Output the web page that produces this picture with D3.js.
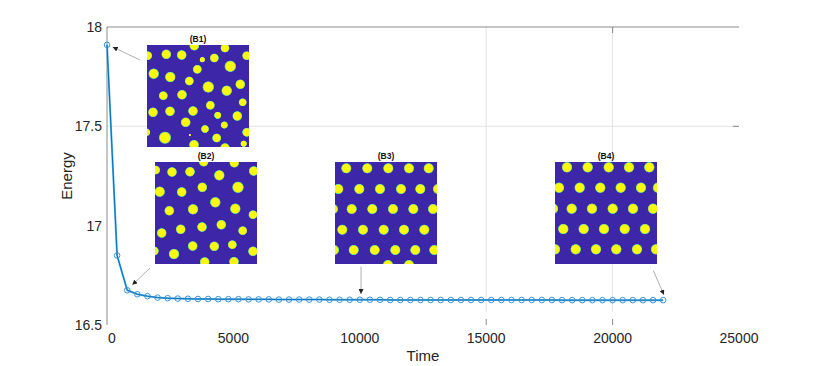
<!DOCTYPE html>
<html>
<head>
<meta charset="utf-8">
<script src="https://cdn.jsdelivr.net/npm/d3@7"></script>
<style>
  body { margin: 0; background: #fff; }
  svg { display: block; font-family: "Liberation Sans", Arial, Helvetica, sans-serif; }
</style>
</head>
<body>
<div id="chart"></div>
<script>
// data
var times = [0, 400, 800, 1200, 1600, 2000, 2400, 2800, 3200, 3600,
  4000, 4400, 4800, 5200, 5600, 6000, 6400, 6800, 7200, 7600,
  8000, 8400, 8800, 9200, 9600, 10000, 10400, 10800, 11200, 11600,
  12000, 12400, 12800, 13200, 13600, 14000, 14400, 14800, 15200, 15600,
  16000, 16400, 16800, 17200, 17600, 18000, 18400, 18800, 19200, 19600,
  20000, 20400, 20800, 21200, 21600, 22000];
var energy = [17.91, 16.85, 16.675, 16.655, 16.645, 16.638, 16.635, 16.633, 16.632, 16.631,
  16.631, 16.630, 16.630, 16.630, 16.629, 16.629, 16.629, 16.628, 16.628, 16.628,
  16.628, 16.628, 16.627, 16.627, 16.627, 16.627, 16.627, 16.627, 16.626, 16.626,
  16.626, 16.626, 16.626, 16.626, 16.626, 16.626, 16.626, 16.626, 16.626, 16.626,
  16.626, 16.626, 16.626, 16.626, 16.626, 16.625, 16.625, 16.625, 16.625, 16.625,
  16.625, 16.625, 16.625, 16.625, 16.625, 16.625];
var xTicks = [0, 5000, 10000, 15000, 20000, 25000];
var yTicks = [16.5, 17, 17.5, 18];

// inset snapshots: dot [x, y, r] inside a 102px square
var dotsB1 = [[47.3,0.7,4],[78,3,3.7],[0.7,10.7,3.7],[19.3,9.3,4],[34.7,10,4],[55.3,14.7,2.3],
  [67.3,13,3.7],[99.7,10.7,3.7],[83.3,21.3,4.7],[50.3,24.3,3.7],[6.7,28.7,4.3],[23.3,32,4.3],
  [42.3,36,3.7],[61.3,42,4.7],[93.3,39.3,4],[79.7,45.7,4.3],[16.3,50.7,3.7],[35,49.7,4],
  [95.7,57.3,3.3],[63.3,60.3,3.7],[6,67.3,4],[23,66.3,4],[46,66,4],[70.7,70.3,3],
  [90.3,71,4],[38.7,77.3,4],[77.3,80,3],[58,84,3.3],[99.7,87.3,3.7],[-0.7,87.3,3.3],
  [42.7,90,1],[18,92.7,5],[69.7,93,3.7],[47,99.7,4],[96.7,98.7,2.7],[78,103,4]];
var dotsB2 = [[48.7,-0.3,4],[79.3,0.7,4],[0.7,8,3.7],[17,10,4],[35,9.7,4],[64.3,13.3,4.3],
  [98.7,9,4],[4.7,29.7,4.3],[26.7,30,4],[47.3,25.3,4],[83,25.3,4.7],[60.3,40.3,4.3],
  [14.3,48.7,4],[38,47.3,4.3],[80.3,46.7,4.3],[98,52.7,3.7],[66.3,62.7,4],[47,65,4],
  [25.7,67.3,4],[6.7,71,4],[87.7,68.7,3.7],[37.7,84,4],[59.3,84.3,4],[77.3,82.7,3.7],
  [19,92,4.3],[98,89.3,4],[-0.7,89,3.7],[49.7,100,4],[79,99.7,4]];
var dotsB3 = [[11.3,6.3,4.2],[32.3,6.3,4.2],[53.3,6.3,4.2],[74,6.3,4.2],[93.7,6.3,4.2],
  [3.3,27,4.2],[24.3,27,4.2],[45,27,4.2],[66,27,4.2],[85.3,27,4.2],[103,27,4.2],
  [-2,47,4.2],[16.7,47,4.2],[37.3,47,4.2],[58,47,4.2],[78.3,47,4.2],[98,47,4.2],
  [7.3,67.7,4.2],[28,67.7,4.2],[48.7,67.7,4.2],[69,67.7,4.2],[89.3,67.7,4.2],
  [-1,88,4.2],[18.7,88,4.2],[39.7,88,4.2],[60.3,88,4.2],[80.3,88,4.2],[99.3,88,4.2],
  [53,103,4.2],[74,103,4.2]];
var dotsB4 = [[12,5.3,4.3],[32.7,5.3,4.3],[53.7,5.3,4.3],[74,5.3,4.3],[94.3,5.3,4.3],
  [4,25.7,4.3],[24.7,25.7,4.3],[45.3,25.7,4.3],[65.7,25.7,4.3],[86,25.7,4.3],[103,25.7,4.3],
  [-2,46.7,4.3],[16.7,46.7,4.3],[37,46.7,4.3],[57.7,46.7,4.3],[78,46.7,4.3],[98,46.7,4.3],
  [8.3,67,4.3],[28.7,67,4.3],[49,67,4.3],[69.7,67,4.3],[90,67,4.3],
  [0,87.3,4.3],[20.7,87.3,4.3],[41,87.3,4.3],[61.3,87.3,4.3],[82,87.3,4.3],[101,87.3,4.3]];

var insets = [
  {name: "(B1)", x: 147, y: 45, dots: dotsB1},
  {name: "(B2)", x: 155, y: 162, dots: dotsB2},
  {name: "(B3)", x: 335, y: 162, dots: dotsB3},
  {name: "(B4)", x: 555, y: 162, dots: dotsB4}
];
var imgSize = 102;

// arrows [t0, E0, t1, E1] tail -> head
var arrows = [
  [1305, 17.834, 225, 17.899],
  [1700, 16.786, 1000, 16.702],
  [10050, 16.794, 10050, 16.656],
  [21610, 16.774, 22030, 16.652]
];

var svgWidth = 817, svgHeight = 366;
var svg = d3.select("#chart").append("svg")
  .attr("width", svgWidth)
  .attr("height", svgHeight);

var x = d3.scaleLinear().domain([0, 25000]).range([107, 739]);
var y = d3.scaleLinear().domain([16.5, 18]).range([325, 27]);

var defs = svg.append("defs");
var grad = defs.append("radialGradient").attr("id", "dotGrad");
grad.append("stop").attr("offset", "0%").attr("stop-color", "#f9fb0e");
grad.append("stop").attr("offset", "74%").attr("stop-color", "#f9f90f");
grad.append("stop").attr("offset", "87%").attr("stop-color", "#6fcc8c");
grad.append("stop").attr("offset", "100%").attr("stop-color", "#3e26a8");
defs.append("marker")
  .attr("id", "head")
  .attr("viewBox", "0 0 10 10")
  .attr("refX", 10).attr("refY", 5)
  .attr("markerWidth", 5).attr("markerHeight", 5)
  .attr("markerUnits", "userSpaceOnUse")
  .attr("orient", "auto")
  .append("path")
  .attr("d", "M0,0 L10,5 L0,10 z")
  .attr("fill", "#222");

// grid (only the visible ones)
svg.selectAll(".vgrid").data([15000, 20000]).enter().append("line")
  .attr("x1", d => x(d)).attr("x2", d => x(d))
  .attr("y1", y(18)).attr("y2", 312)
  .attr("stroke", "#e3e3e3").attr("stroke-width", 1);
svg.append("line")
  .attr("x1", x(0)).attr("x2", x(25000))
  .attr("y1", y(17.5)).attr("y2", y(17.5))
  .attr("stroke", "#e3e3e3").attr("stroke-width", 1);

// axis frame: top + left, a few ticks
svg.append("line").attr("x1", x(0)).attr("x2", x(25000)).attr("y1", y(18)).attr("y2", y(18))
  .attr("stroke", "#8a8a8a");
svg.append("line").attr("x1", x(0)).attr("x2", x(0)).attr("y1", y(18)).attr("y2", y(16.5))
  .attr("stroke", "#8a8a8a");
svg.append("line").attr("x1", x(20000)).attr("x2", x(20000)).attr("y1", y(18)).attr("y2", y(18) + 6)
  .attr("stroke", "#8a8a8a");
svg.append("line").attr("x1", x(25000) - 6).attr("x2", x(25000)).attr("y1", y(17.5)).attr("y2", y(17.5))
  .attr("stroke", "#8a8a8a");
svg.selectAll(".btick").data([15000, 20000]).enter().append("line")
  .attr("x1", d => x(d)).attr("x2", d => x(d))
  .attr("y1", y(16.5) - 6).attr("y2", y(16.5))
  .attr("stroke", "#8a8a8a");

// tick labels
svg.selectAll(".xlab").data(xTicks).enter().append("text")
  .attr("x", d => x(d) + (d === 0 ? 5 : 0))
  .attr("y", 343)
  .attr("text-anchor", "middle")
  .attr("font-size", "14px")
  .attr("fill", "#262626")
  .text(d => d);
svg.selectAll(".ylab").data(yTicks).enter().append("text")
  .attr("x", 102)
  .attr("y", d => y(d) + 5)
  .attr("text-anchor", "end")
  .attr("font-size", "14px")
  .attr("fill", "#262626")
  .text(d => d);

svg.append("text")
  .attr("x", (x(0) + x(25000)) / 2)
  .attr("y", 361)
  .attr("text-anchor", "middle")
  .attr("font-size", "15px")
  .attr("fill", "#262626")
  .text("Time");
svg.append("text")
  .attr("transform", `translate(72, ${(y(18) + y(16.5)) / 2}) rotate(-90)`)
  .attr("text-anchor", "middle")
  .attr("font-size", "15px")
  .attr("fill", "#262626")
  .text("Energy");

// energy curve
var pts = times.map((t, i) => [t, energy[i]]);
var line = d3.line().x(d => x(d[0])).y(d => y(d[1]));
svg.append("path").datum(pts)
  .attr("d", line)
  .attr("fill", "none")
  .attr("stroke", "#5db0e4")
  .attr("stroke-width", 2);
svg.append("path").datum(pts)
  .attr("d", line)
  .attr("fill", "none")
  .attr("stroke", "#0072bd")
  .attr("stroke-width", 1);
svg.selectAll(".mk").data(pts).enter().append("circle")
  .attr("cx", d => x(d[0]))
  .attr("cy", d => y(d[1]))
  .attr("r", 2.8)
  .attr("fill", "none")
  .attr("stroke", "#3d92d4")
  .attr("stroke-width", 1);

// inset images
insets.forEach(function(b, i) {
  defs.append("clipPath").attr("id", "clip" + i)
    .append("rect").attr("x", 0).attr("y", 0).attr("width", imgSize).attr("height", imgSize);
  var g = svg.append("g").attr("transform", `translate(${b.x}, ${b.y})`);
  var inner = g.append("g").attr("clip-path", `url(#clip${i})`);
  inner.append("rect").attr("width", imgSize).attr("height", imgSize).attr("fill", "#3e26a8");
  inner.selectAll("circle").data(b.dots).enter().append("circle")
    .attr("cx", d => d[0])
    .attr("cy", d => d[1])
    .attr("r", d => d[2] * 1.3)
    .attr("fill", "url(#dotGrad)");
  g.append("text")
    .attr("x", imgSize / 2)
    .attr("y", -3)
    .attr("text-anchor", "middle")
    .attr("font-size", "8.5px")
    .attr("font-weight", "bold")
    .attr("fill", "#111")
    .text(b.name);
});

// arrows
svg.selectAll(".arrow").data(arrows).enter().append("line")
  .attr("x1", d => x(d[0])).attr("y1", d => y(d[1]))
  .attr("x2", d => x(d[2])).attr("y2", d => y(d[3]))
  .attr("stroke", "#8c8c8c")
  .attr("stroke-width", 0.7)
  .attr("marker-end", "url(#head)");
</script>
</body>
</html>
